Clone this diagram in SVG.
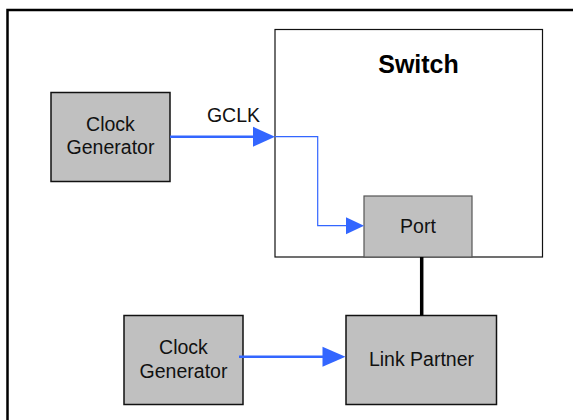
<svg xmlns="http://www.w3.org/2000/svg" width="573" height="420" viewBox="0 0 573 420">
<style>
.box{fill:#c0c0c0;stroke:#111;stroke-width:1.5}
.lbl{font-family:"Liberation Sans",Arial,sans-serif;font-size:19.5px;fill:#111;text-anchor:middle}
.title{font-family:"Liberation Sans",Arial,sans-serif;font-size:25px;font-weight:bold;fill:#000;text-anchor:middle}
.blue{stroke:#3366ff;fill:none}
.head{fill:#3366ff}
</style>
<rect width="573" height="420" fill="#fff"/>
<path d="M7.5,420 V10 H573" fill="none" stroke="#000" stroke-width="2.5"/>
<g id="switch">
<rect x="275" y="29.5" width="267.5" height="227.5" fill="#fff" stroke="#111" stroke-width="1.2"/>
<text class="title" x="418.5" y="73">Switch</text>
</g>
<g id="clockgen1">
<rect class="box" x="51" y="92.5" width="119" height="89"/>
<text class="lbl" x="110.5" y="131">Clock</text>
<text class="lbl" x="110.5" y="154">Generator</text>
</g>
<g id="port">
<rect x="364" y="196" width="108" height="61" fill="#c0c0c0" stroke="#555" stroke-width="1.2"/>
<text class="lbl" x="418" y="232.5">Port</text>
</g>
<g id="clockgen2">
<rect class="box" x="124" y="315.5" width="119" height="89"/>
<text class="lbl" x="183.5" y="353.5">Clock</text>
<text class="lbl" x="183.5" y="377.5">Generator</text>
</g>
<g id="linkpartner">
<rect class="box" x="346" y="315.5" width="150.5" height="89"/>
<text class="lbl" x="421.5" y="365.5">Link Partner</text>
</g>
<g id="connectors">
<line class="blue" x1="170" y1="136.7" x2="255" y2="136.7" stroke-width="2.5"/>
<polygon class="head" points="253,126.7 275,136.7 253,146.7"/>
<text class="lbl" x="233.5" y="122">GCLK</text>
<polyline class="blue" points="275,136.7 317.7,136.7 317.7,225.7 348,225.7" stroke-width="1.2"/>
<polygon class="head" points="346,217.2 364,225.7 346,234.2"/>
<line class="blue" x1="239" y1="356.7" x2="324" y2="356.7" stroke-width="2.5"/>
<polygon class="head" points="322.5,346.7 345.5,356.7 322.5,366.7"/>
<line x1="421.7" y1="257" x2="421.7" y2="315.5" stroke="#000" stroke-width="3.5"/>
</g>
</svg>
